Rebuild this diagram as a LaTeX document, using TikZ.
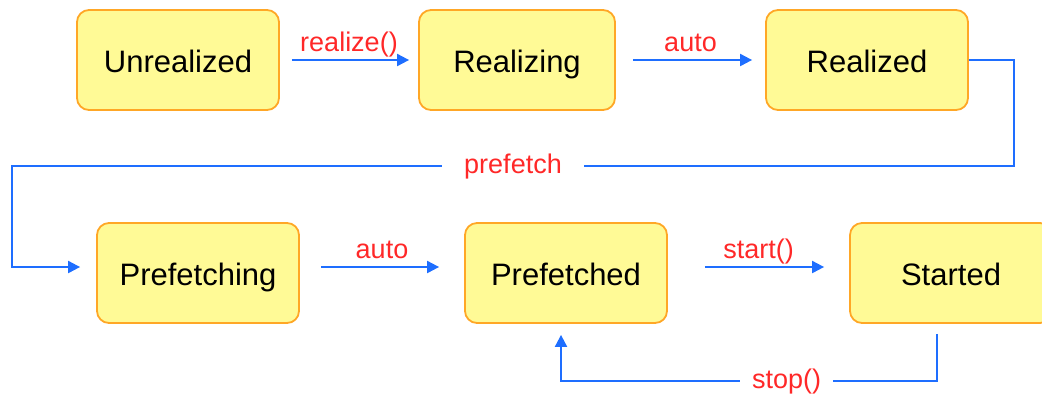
\documentclass[tikz,border=0pt]{standalone}
\usepackage{fontspec}
\setmainfont{Liberation Sans}
\usetikzlibrary{arrows.meta}
\definecolor{boxfill}{HTML}{FFFA96}
\definecolor{boxline}{HTML}{FFA726}
\definecolor{flowblue}{HTML}{1E6EFF}
\definecolor{lblred}{HTML}{FF2828}

\begin{document}
\begin{tikzpicture}[x=0.5pt,y=-0.5pt,>={Triangle[length=6pt,width=6pt]},
    stbox/.style={draw=boxline,line width=0.9pt,fill=boxfill,rounded corners=6pt,
      minimum width=101pt,minimum height=50pt,text height=12pt,text depth=0pt,
      font=\fontsize{15.5}{18}\selectfont},
    flow/.style={->,draw=flowblue,line width=1pt},
    lbl/.style={text=lblred,inner sep=1pt,text height=10pt,text depth=3pt,
      font=\fontsize{13.5}{16}\selectfont}]
  \useasboundingbox (0,0) rectangle (1042,403);

  % upper row
  \node[stbox] (unrealized) at (178,60) {Unrealized};
  \node[stbox,minimum width=98pt] (realizing) at (517,60) {Realizing};
  \node[stbox] (realized) at (867,60) {Realized};

  % lower row
  \node[stbox] (prefetching) at (198,273) {Prefetching};
  \node[stbox] (prefetched) at (566,273) {Prefetched};
  \node[stbox] (started) at (951,273) {Started};

  \coordinate (turnR) at (1014,166);
  \coordinate (turnL) at (12,166);
  \coordinate (stopR) at (937,381);
  \coordinate (stopL) at (561,381);

  \draw[flow,shorten <=6pt,shorten >=4.5pt] (unrealized) -- node[lbl,above] {realize()} (realizing);
  \draw[flow,shorten <=8.5pt,shorten >=6.5pt] (realizing) -- node[lbl,above] {auto} (realized);

  \draw[flow,shorten >=8pt] (realized.east) -| (turnR)
    -- node[lbl,fill=white,inner xsep=11pt] {prefetch} (turnL)
    |- ([yshift=3pt]prefetching.west);

  \draw[flow,shorten <=10.5pt,shorten >=12.5pt] ([yshift=3pt]prefetching.east)
    -- node[lbl,above] {auto} ([yshift=3pt]prefetched.west);
  \draw[flow,shorten <=18.5pt,shorten >=12.5pt] ([yshift=3pt]prefetched.east)
    -- node[lbl,above] {start()} ([yshift=3pt]started.west);

  \draw[flow,shorten <=5pt,shorten >=5.5pt] ([xshift=-7pt]started.south) -- (stopR)
    -- node[lbl,fill=white,inner xsep=6pt,pos=0.4] {stop()} (stopL)
    -- ([xshift=-2.5pt]prefetched.south);
\end{tikzpicture}
\end{document}
